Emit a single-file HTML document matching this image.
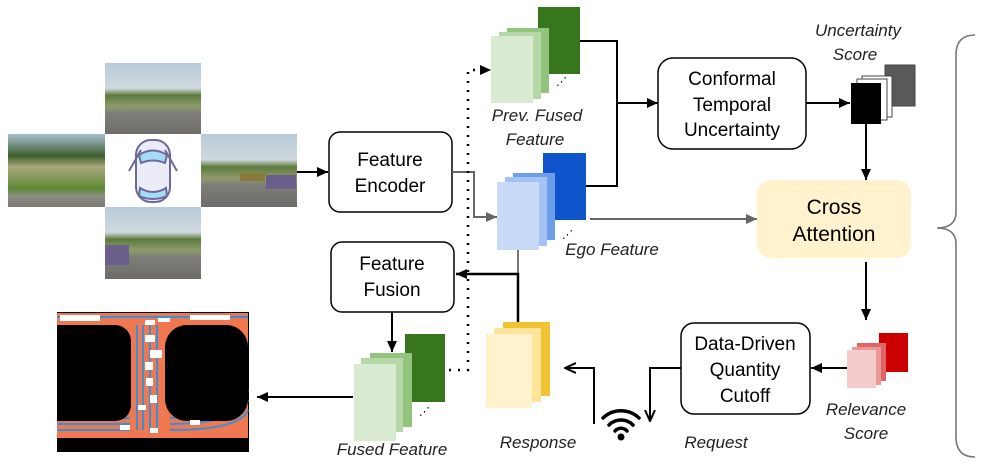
<!DOCTYPE html>
<html><head><meta charset="utf-8"><style>
html,body{margin:0;padding:0;background:#fff;width:997px;height:466px;overflow:hidden}
svg{display:block}
text{font-family:"Liberation Sans",sans-serif;fill:#000}
.b{font-size:19px;text-anchor:middle}
.i{font-size:17px;font-style:italic;text-anchor:middle;fill:#222}
</style></head><body>
<svg width="997" height="466" viewBox="0 0 997 466" xmlns="http://www.w3.org/2000/svg">
<defs>
<marker id="a" markerWidth="12" markerHeight="12" refX="11" refY="6" orient="auto" markerUnits="userSpaceOnUse"><path d="M0,1 L11,6 L0,11 z" fill="#000"/></marker>
<marker id="ag" markerWidth="12" markerHeight="12" refX="11" refY="6" orient="auto" markerUnits="userSpaceOnUse"><path d="M0,1 L11,6 L0,11 z" fill="#666"/></marker>
<marker id="ao" markerWidth="12" markerHeight="12" refX="11" refY="6" orient="auto" markerUnits="userSpaceOnUse"><path d="M0,1 L11,6 L0,11" fill="none" stroke="#000" stroke-width="2"/></marker>
<linearGradient id="cam" x1="0" y1="0" x2="0" y2="1">
<stop offset="0" stop-color="#b9cbd8"/><stop offset="0.35" stop-color="#cfd9de"/><stop offset="0.45" stop-color="#5d7a3e"/><stop offset="0.6" stop-color="#8f9a6a"/><stop offset="0.7" stop-color="#7e7d78"/><stop offset="1" stop-color="#6e6c6a"/></linearGradient>
<linearGradient id="camL" x1="0" y1="0" x2="0" y2="1">
<stop offset="0" stop-color="#a9c0d0"/><stop offset="0.3" stop-color="#3f5f2e"/><stop offset="0.45" stop-color="#a9a77c"/><stop offset="0.75" stop-color="#5c8a34"/><stop offset="0.85" stop-color="#8d8c84"/><stop offset="1" stop-color="#7a7873"/></linearGradient>
</defs>

<rect x="105" y="63" width="96" height="72" fill="url(#cam)"/>
<rect x="8" y="134" width="97" height="73" fill="url(#camL)"/>
<rect x="105" y="134" width="96" height="73" fill="#fff"/>
<rect x="201" y="134" width="96" height="73" fill="url(#cam)"/>
<rect x="105" y="207" width="96" height="72" fill="url(#cam)"/>
<rect x="240" y="173" width="25" height="8" fill="#8a7a3a"/>
<rect x="266" y="175" width="30" height="14" fill="#6a5f8a"/>
<rect x="105" y="245" width="24" height="20" fill="#6a5f8a"/>
<g stroke="#6b6a9a" stroke-width="2" fill="#ecebf8">
<rect x="136" y="140" width="34" height="62" rx="15"/>
<path d="M129,171 L141,150 M177,171 L165,150" fill="none"/>
<path d="M139,155 Q153,146 167,155 L165,163 Q153,158 141,163 z" fill="#a5dbf5"/>
<path d="M140,188 Q153,196 166,188 L167,196 Q153,202 139,196 z" fill="#a5dbf5"/>
</g>

<line x1="297" y1="172" x2="328" y2="172" stroke="#000" stroke-width="2" marker-end="url(#a)"/>

<rect x="329" y="132" width="123" height="80" rx="11" fill="#fff" stroke="#000" stroke-width="1.5"/>
<text class="b" x="390" y="166">Feature</text>
<text class="b" x="390" y="192">Encoder</text>

<polyline points="452,172 474,172 474,217 497,217" fill="none" stroke="#666" stroke-width="2" marker-end="url(#ag)"/>

<rect x="538" y="7" width="42" height="67" fill="#38761d"/>
<rect x="507" y="28" width="42" height="65" fill="#93c47d"/>
<rect x="499" y="32" width="42" height="67" fill="#b6d7a8"/>
<rect x="491" y="36" width="42" height="67" fill="#d9ead3"/>
<text x="556" y="85" font-size="11" fill="#666">⋰</text>
<text class="i" x="537" y="121">Prev. Fused</text>
<text class="i" x="535" y="145">Feature</text>

<rect x="543" y="153" width="43" height="67" fill="#1155cc"/>
<rect x="513" y="173" width="42" height="67" fill="#6d9eeb"/>
<rect x="505" y="177" width="42" height="69" fill="#a4c2f4"/>
<rect x="497" y="182" width="42" height="68" fill="#c9daf8"/>
<text x="562" y="238" font-size="11" fill="#666">⋰</text>
<text class="i" x="612" y="255">Ego Feature</text>

<polyline points="580,41 617,41 617,186 586,186" fill="none" stroke="#000" stroke-width="2"/>
<line x1="617" y1="103" x2="658" y2="103" stroke="#000" stroke-width="2" marker-end="url(#a)"/>

<rect x="658" y="58" width="148" height="91" rx="15" fill="#fff" stroke="#000" stroke-width="1.5"/>
<text class="b" x="732" y="85">Conformal</text>
<text class="b" x="732" y="111">Temporal</text>
<text class="b" x="732" y="136">Uncertainty</text>
<line x1="806" y1="103" x2="850" y2="103" stroke="#000" stroke-width="2" marker-end="url(#a)"/>

<rect x="885" y="65" width="30" height="41" fill="#595959" stroke="#444"/>
<rect x="862" y="76" width="30" height="41" fill="#fff" stroke="#444"/>
<rect x="857" y="79" width="30" height="41" fill="#fff" stroke="#444"/>
<rect x="851" y="83" width="30" height="41" fill="#000"/>
<text class="i" x="858" y="36">Uncertainty</text>
<text class="i" x="855" y="60">Score</text>
<line x1="866" y1="124" x2="866" y2="180" stroke="#000" stroke-width="2" marker-end="url(#a)"/>

<rect x="757" y="180" width="154" height="78" rx="14" fill="#fff2cc"/>
<text x="834" y="214" font-size="21" text-anchor="middle">Cross</text>
<text x="834" y="241" font-size="21" text-anchor="middle">Attention</text>
<line x1="590" y1="219" x2="757" y2="219" stroke="#666" stroke-width="2" marker-end="url(#ag)"/>
<line x1="866" y1="262" x2="866" y2="320" stroke="#000" stroke-width="2" marker-end="url(#a)"/>

<rect x="879" y="333" width="29" height="39" fill="#cc0000"/>
<rect x="857" y="343" width="29" height="38" fill="#e06666"/>
<rect x="852" y="347" width="29" height="38" fill="#ea9999"/>
<rect x="847" y="350" width="29" height="38" fill="#f4cccc"/>
<text class="i" x="866" y="415">Relevance</text>
<text class="i" x="866" y="439">Score</text>
<line x1="847" y1="368" x2="811" y2="368" stroke="#000" stroke-width="2" marker-end="url(#a)"/>

<rect x="681" y="323" width="129" height="91" rx="13" fill="#fff" stroke="#000" stroke-width="1.5"/>
<text class="b" x="745" y="350">Data-Driven</text>
<text class="b" x="745" y="376">Quantity</text>
<text class="b" x="745" y="402">Cutoff</text>
<polyline points="681,368 650,368 650,421" fill="none" stroke="#000" stroke-width="2" marker-end="url(#ao)"/>
<text class="i" x="716" y="448">Request</text>

<g fill="none" stroke="#000" stroke-width="3.5" stroke-linecap="round">
<path d="M603,418 A26,26 0 0 1 639,418"/>
<path d="M609,425 A17,17 0 0 1 633,425"/>
<path d="M615,431 A8,8 0 0 1 627,431"/>
</g>
<circle cx="621" cy="437" r="3.5" fill="#000"/>

<polyline points="594,424 594,368 565,368" fill="none" stroke="#000" stroke-width="2" marker-end="url(#ao)"/>

<rect x="503" y="322" width="47" height="74" fill="#f1c232"/>
<rect x="494" y="328" width="47" height="74" fill="#ffe599"/>
<rect x="486" y="334" width="46" height="74" fill="#fff2cc"/>
<text class="i" x="538" y="448">Response</text>

<line x1="518" y1="250" x2="518" y2="274" stroke="#777" stroke-width="2"/>
<polyline points="518,322 518,274 456,274" fill="none" stroke="#000" stroke-width="2.5" marker-end="url(#a)"/>

<polyline points="449,370 468,370 468,70 491,70" fill="none" stroke="#000" stroke-width="2.5" stroke-dasharray="2,7" marker-end="url(#a)"/>

<rect x="331" y="242" width="123" height="70" rx="11" fill="#fff" stroke="#000" stroke-width="1.5"/>
<text class="b" x="392" y="270">Feature</text>
<text class="b" x="392" y="296">Fusion</text>
<line x1="392" y1="312" x2="392" y2="352" stroke="#000" stroke-width="2" marker-end="url(#a)"/>

<rect x="405" y="334" width="40" height="68" fill="#38761d"/>
<rect x="370" y="353" width="42" height="74" fill="#93c47d"/>
<rect x="361" y="358" width="42" height="74" fill="#b6d7a8"/>
<rect x="354" y="364" width="42" height="77" fill="#d9ead3"/>
<text x="419" y="415" font-size="11" fill="#666">⋰</text>
<text class="i" x="392" y="455">Fused Feature</text>
<line x1="353" y1="397" x2="257" y2="397" stroke="#000" stroke-width="2" marker-end="url(#a)"/>

<rect x="57" y="312" width="192" height="140" fill="#000"/>
<rect x="57" y="313" width="191" height="125" fill="#f07850"/>
<g stroke="#3b8fd8" stroke-width="2">
<line x1="137" y1="325" x2="137" y2="430"/><line x1="143" y1="325" x2="143" y2="430"/><line x1="150" y1="325" x2="150" y2="430"/><line x1="157" y1="325" x2="157" y2="430"/>
<line x1="57" y1="418" x2="130" y2="418"/><line x1="57" y1="424" x2="130" y2="424"/><line x1="57" y1="430" x2="130" y2="430"/>
<path d="M170,418 Q230,418 248,390 M170,424 Q235,424 248,400 M170,430 Q240,430 248,410" fill="none"/>
<line x1="57" y1="317" x2="248" y2="317"/>
</g>
<rect x="57" y="325" width="74" height="96" rx="16" fill="#000"/>
<rect x="57" y="325" width="30" height="96" fill="#000"/>
<rect x="165" y="325" width="83" height="96" rx="22" fill="#000"/>
<g fill="#fff">
<rect x="60" y="315" width="40" height="6"/><rect x="145" y="320" width="10" height="5"/><rect x="158" y="318" width="12" height="4"/><rect x="190" y="315" width="40" height="5"/>
<rect x="145" y="335" width="10" height="7"/><rect x="150" y="350" width="12" height="8"/><rect x="145" y="362" width="8" height="8"/><rect x="146" y="378" width="7" height="8"/><rect x="150" y="395" width="7" height="8"/><rect x="138" y="405" width="8" height="5"/><rect x="120" y="425" width="10" height="5"/><rect x="150" y="428" width="8" height="5"/><rect x="190" y="420" width="10" height="5"/>
</g>
<rect x="57" y="438" width="192" height="14" fill="#000"/>

<path d="M975,35 Q956,35 956,55 L956,212 Q956,228 937,228 Q956,228 956,244 L956,437 Q956,457 975,457" fill="none" stroke="#777" stroke-width="1.6"/>
</svg>
</body></html>
